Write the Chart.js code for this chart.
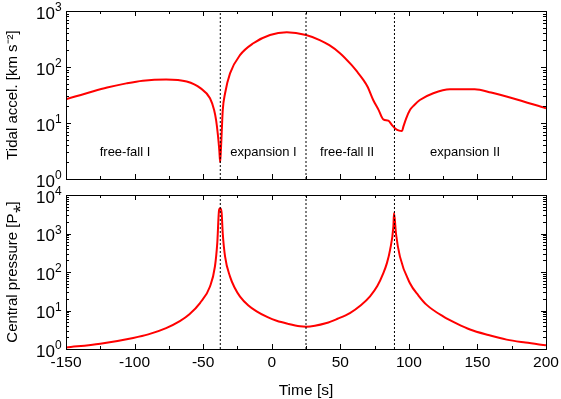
<!DOCTYPE html>
<html>
<head>
<meta charset="utf-8">
<script src="https://cdn.jsdelivr.net/npm/chart.js@4/dist/chart.umd.min.js"></script>
<style>
  body { margin: 0; background: #fff; }
  #wrap { position: relative; width: 561px; height: 399px; overflow: hidden; }
  #top, #bot { position: absolute; left: 0; }
  #top { top: 0; }
  #bot { top: 185px; }
</style>
</head>
<body>
<div id="wrap">
  <canvas id="top" width="561" height="190"></canvas>
  <canvas id="bot" width="561" height="215"></canvas>
</div>
<script>
// time axis
var xMin = -150, xMax = 200;

// top panel: tidal acceleration [km s^-2]
var tAccel = [-150, -130, -120, -106, -94, -77, -62, -52, -45, -42, -40.5, -39.2, -38.2, -37.6,
  -37.0, -36.5, -35.7, -34, -30.4, -23, -13.4, -1.25, 11, 25, 35, 42, 50, 58, 62, 66.8, 70, 74, 78,
  81.4, 85, 88, 90, 93, 95, 96, 98, 100.8, 104, 108, 117.8, 130, 148, 160, 175, 200];
var accel = [26.5, 37, 43, 51, 57, 60, 55, 42, 27.6, 17, 11, 6, 3.2, 2.0,
  3.5, 6.5, 17, 34, 77, 164, 265, 373, 416, 373, 303, 245, 175, 110, 84, 59, 44, 25.8, 17,
  11.6, 11, 9, 8, 7.3, 7.2, 8.6, 12, 17, 21, 25.7, 34, 40, 40, 35, 28, 18.3];

// bottom panel: central pressure [P*]
var tPress = [-150, -125, -101, -90, -77, -67, -60, -52.3, -45, -41.4, -39.7, -38.4, -37.7, -37.2,
  -36.5, -35.7, -34, -30.4, -27, -23.1, -17, -11, -3, 3.6, 12, 20.6, 25, 40, 48, 57, 65, 71.7, 77,
  81.4, 84, 86.3, 88.7, 89.2, 90.6, 93.5, 100.8, 107, 113, 125, 135, 144.6, 158, 171.3, 185, 200];
var press = [1.09, 1.37, 1.94, 2.4, 3.5, 5.3, 8.0, 15.6, 42, 139, 560, 4070, 4520, 4400,
  3400, 1000, 250, 76, 39, 23, 13.5, 9.5, 6.7, 5.4, 4.5, 3.9, 3.8, 4.74, 6.1, 8.6, 13.7, 23.4, 43,
  93, 170, 376, 1510, 3400, 1000, 251, 51, 24.5, 14, 7, 4.55, 3.2, 2.3, 1.75, 1.47, 1.25];

// phase boundaries
var phaseT = [-37.5, 25, 89.5];

// phase labels (top panel)
var phaseNames = ['free-fall I', 'expansion I', 'free-fall II', 'expansion II'];
var phaseX = [-107, -6, 55, 141];
var phaseY = 3;

var FONT = "'Liberation Sans', Arial, Helvetica, sans-serif";

function toXY(xs, ys) {
  var out = [];
  for (var i = 0; i < xs.length; i++) out.push({x: xs[i], y: ys[i]});
  return out;
}

function vlines(lo, hi) {
  var sets = [];
  for (var i = 0; i < phaseT.length; i++) {
    sets.push({
      data: [{x: phaseT[i], y: lo}, {x: phaseT[i], y: hi}],
      borderColor: '#000', borderWidth: 1, borderDash: [2, 2],
      pointRadius: 0, fill: false
    });
  }
  return sets;
}

function curve(data) {
  return {
    data: data, borderColor: '#ff0000', borderWidth: 2, pointRadius: 0,
    fill: false, cubicInterpolationMode: 'monotone'
  };
}

// frame with inward ticks on all sides, decade labels with superscript
var frame = {
  id: 'frame',
  afterDraw: function(chart) {
    var ctx = chart.ctx, a = chart.chartArea;
    var xs = chart.scales.x, ys = chart.scales.y;
    ctx.save();
    ctx.strokeStyle = '#000';
    ctx.lineWidth = 1;
    ctx.strokeRect(a.left + 0.5, a.top + 0.5, a.right - a.left, a.bottom - a.top);
    ctx.beginPath();
    for (var t = xMin; t <= xMax; t += 25) {
      var px = Math.round(xs.getPixelForValue(t)) + 0.5;
      var len = (t % 50 === 0) ? 5 : 3;
      ctx.moveTo(px, a.bottom); ctx.lineTo(px, a.bottom - len);
      ctx.moveTo(px, a.top); ctx.lineTo(px, a.top + len);
    }
    var lo = Math.round(Math.log10(ys.min)), hi = Math.round(Math.log10(ys.max));
    for (var d = lo; d <= hi; d++) {
      for (var k = 1; k <= 9; k++) {
        if (d === hi && k > 1) break;
        var py = Math.round(ys.getPixelForValue(k * Math.pow(10, d))) + 0.5;
        var l = (k === 1) ? 5 : 3;
        ctx.moveTo(a.left, py); ctx.lineTo(a.left + l, py);
        ctx.moveTo(a.right, py); ctx.lineTo(a.right - l, py);
      }
    }
    ctx.stroke();
    ctx.fillStyle = '#000';
    ctx.textBaseline = 'middle';
    for (var e = lo; e <= hi; e++) {
      var y = ys.getPixelForValue(Math.pow(10, e));
      ctx.font = '17px ' + FONT;
      ctx.textAlign = 'right';
      ctx.fillText('10', 55, y + 3);
      ctx.font = '12px ' + FONT;
      ctx.textAlign = 'left';
      ctx.fillText(String(e), 55, y - 3);
    }
    if (chart.options.plugins.frame && chart.options.plugins.frame.labels) {
      ctx.font = '13px ' + FONT;
      ctx.textAlign = 'center';
      for (var i = 0; i < phaseNames.length; i++) {
        ctx.fillText(phaseNames[i], xs.getPixelForValue(phaseX[i]), ys.getPixelForValue(phaseY));
      }
    }
    ctx.restore();
  }
};

function yAxis(min, max, title) {
  return {
    type: 'logarithmic', min: min, max: max,
    ticks: {display: false},
    grid: {display: false, drawTicks: false},
    border: {display: false},
    title: {display: true, text: title, color: '#000', font: {family: FONT, size: 15}, padding: {top: 4, bottom: 0}},
    afterFit: function(s) { s.width = 66; }
  };
}

var topChart = new Chart(document.getElementById('top'), {
  type: 'line',
  data: {datasets: vlines(1, 1000).concat([curve(toXY(tAccel, accel))])},
  options: {
    responsive: false, animation: false,
    layout: {padding: {left: 0, right: 15, top: 11, bottom: 11}},
    plugins: {legend: {display: false}, tooltip: {enabled: false}, frame: {labels: true}},
    scales: {
      x: {type: 'linear', min: xMin, max: xMax, display: false},
      y: yAxis(1, 1000, 'Tidal accel. [km s\u207B\u00B2]')
    }
  },
  plugins: [frame]
});

var botChart = new Chart(document.getElementById('bot'), {
  type: 'line',
  data: {datasets: vlines(1, 10000).concat([curve(toXY(tPress, press))])},
  options: {
    responsive: false, animation: false,
    layout: {padding: {left: 0, right: 15, top: 10, bottom: 0}},
    plugins: {legend: {display: false}, tooltip: {enabled: false}, frame: {labels: false}},
    scales: {
      x: {
        type: 'linear', min: xMin, max: xMax,
        ticks: {stepSize: 50, color: '#000', font: {family: FONT, size: 15.5}, padding: 4, maxRotation: 0},
        grid: {display: false, drawTicks: false},
        border: {display: false},
        title: {display: true, text: 'Time [s]', color: '#000', font: {family: FONT, size: 15.5}, padding: {top: 0, bottom: 0}},
        afterFit: function(s) { s.height = 51; s.paddingLeft = 0; s.paddingRight = 0; }
      },
      y: yAxis(1, 10000, 'Central pressure [P\u204E]')
    }
  },
  plugins: [frame]
});
</script>
</body>
</html>
